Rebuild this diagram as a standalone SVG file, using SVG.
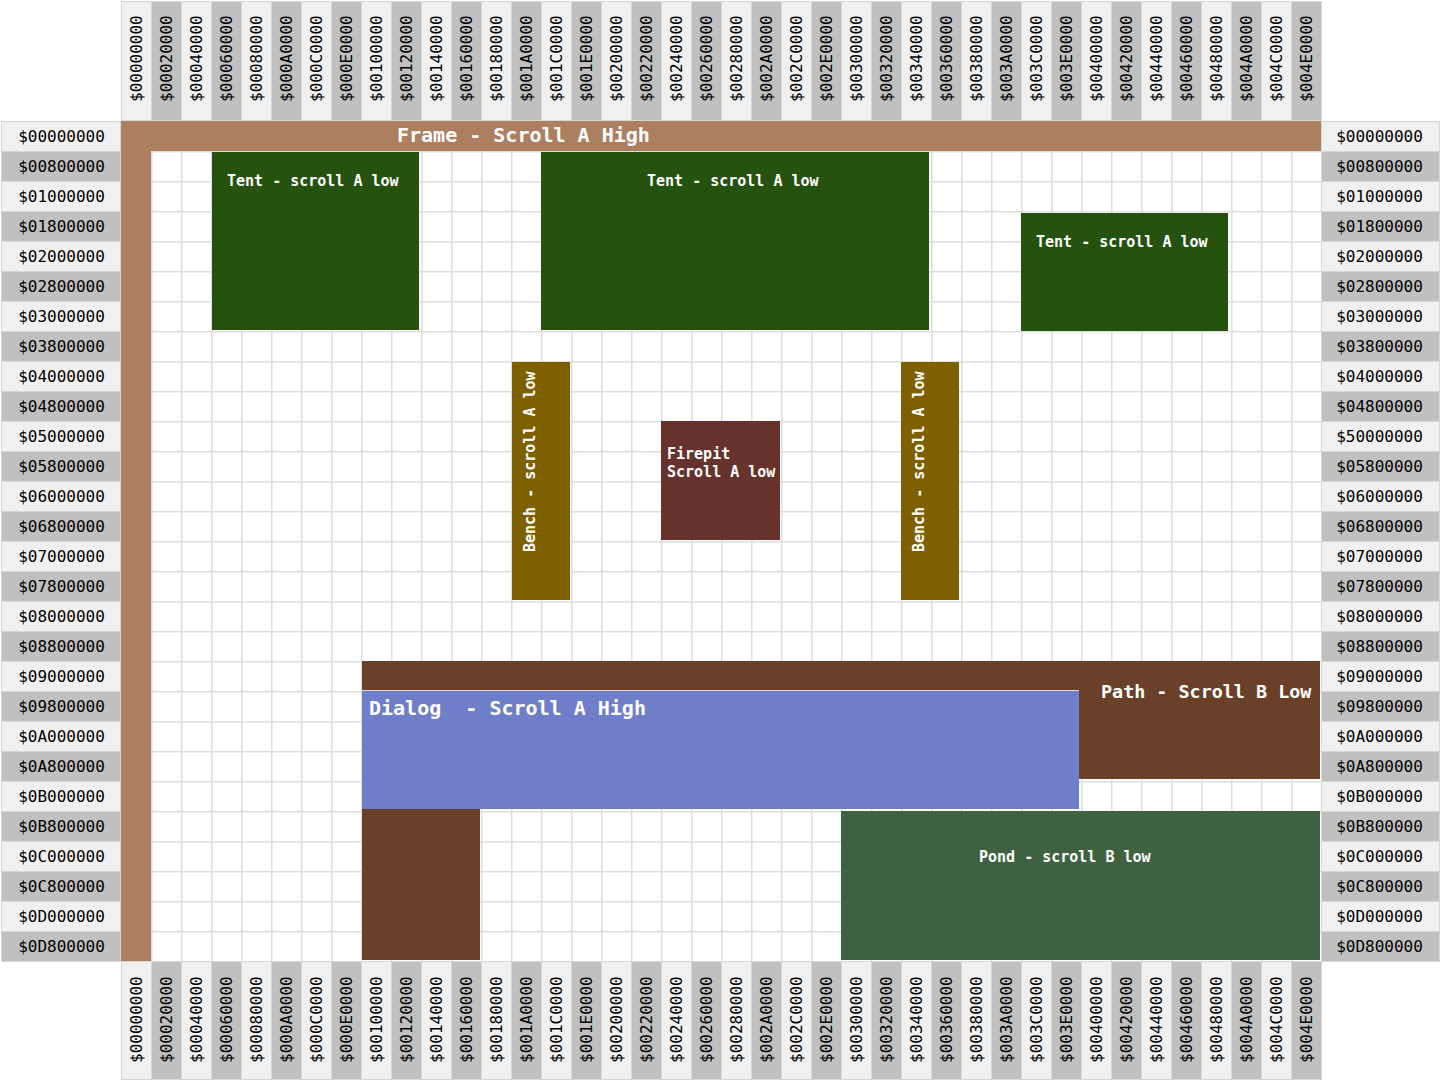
<svg xmlns="http://www.w3.org/2000/svg" width="1441" height="1081" viewBox="0 0 1441 1081">
  <defs>
    <style>
      .lbl { font-family: "DejaVu Sans Mono", "Liberation Mono", monospace; font-size: 16px; fill: #000; }
      .rowlbl { text-anchor: middle; }
      .lt { fill: #f0f0f0; stroke: #d8d8d8; stroke-width: 1; }
      .dk { fill: #c0c0c0; stroke: #d8d8d8; stroke-width: 1; }
      .nt { font-family: "DejaVu Sans Mono", "Liberation Mono", monospace; font-weight: bold; fill: #ffffff; white-space: pre; }
      .s15 { font-size: 15px; }
      .s20 { font-size: 20px; }
    </style>
    <!-- 30px cell grid for the main area -->
    <pattern id="cells" x="121" y="121" width="30" height="30" patternUnits="userSpaceOnUse">
      <rect width="30" height="30" fill="#ffffff"/>
      <path d="M0 0.75H30M0.75 0V30" stroke="#dedede" stroke-width="1.5" fill="none"/>
    </pattern>
  </defs>

  <rect width="1441" height="1081" fill="#ffffff"/>

  <!-- main grid -->
  <rect id="grid" x="121" y="121" width="1200" height="840" fill="url(#cells)"/>

  <!-- column headers, top -->
  <g id="col-header-top">
    <rect class="lt" x="121.5" y="1.5" width="30" height="119"/>
    <rect class="dk" x="151.5" y="1.5" width="30" height="119"/>
    <rect class="lt" x="181.5" y="1.5" width="30" height="119"/>
    <rect class="dk" x="211.5" y="1.5" width="30" height="119"/>
    <rect class="lt" x="241.5" y="1.5" width="30" height="119"/>
    <rect class="dk" x="271.5" y="1.5" width="30" height="119"/>
    <rect class="lt" x="301.5" y="1.5" width="30" height="119"/>
    <rect class="dk" x="331.5" y="1.5" width="30" height="119"/>
    <rect class="lt" x="361.5" y="1.5" width="30" height="119"/>
    <rect class="dk" x="391.5" y="1.5" width="30" height="119"/>
    <rect class="lt" x="421.5" y="1.5" width="30" height="119"/>
    <rect class="dk" x="451.5" y="1.5" width="30" height="119"/>
    <rect class="lt" x="481.5" y="1.5" width="30" height="119"/>
    <rect class="dk" x="511.5" y="1.5" width="30" height="119"/>
    <rect class="lt" x="541.5" y="1.5" width="30" height="119"/>
    <rect class="dk" x="571.5" y="1.5" width="30" height="119"/>
    <rect class="lt" x="601.5" y="1.5" width="30" height="119"/>
    <rect class="dk" x="631.5" y="1.5" width="30" height="119"/>
    <rect class="lt" x="661.5" y="1.5" width="30" height="119"/>
    <rect class="dk" x="691.5" y="1.5" width="30" height="119"/>
    <rect class="lt" x="721.5" y="1.5" width="30" height="119"/>
    <rect class="dk" x="751.5" y="1.5" width="30" height="119"/>
    <rect class="lt" x="781.5" y="1.5" width="30" height="119"/>
    <rect class="dk" x="811.5" y="1.5" width="30" height="119"/>
    <rect class="lt" x="841.5" y="1.5" width="30" height="119"/>
    <rect class="dk" x="871.5" y="1.5" width="30" height="119"/>
    <rect class="lt" x="901.5" y="1.5" width="30" height="119"/>
    <rect class="dk" x="931.5" y="1.5" width="30" height="119"/>
    <rect class="lt" x="961.5" y="1.5" width="30" height="119"/>
    <rect class="dk" x="991.5" y="1.5" width="30" height="119"/>
    <rect class="lt" x="1021.5" y="1.5" width="30" height="119"/>
    <rect class="dk" x="1051.5" y="1.5" width="30" height="119"/>
    <rect class="lt" x="1081.5" y="1.5" width="30" height="119"/>
    <rect class="dk" x="1111.5" y="1.5" width="30" height="119"/>
    <rect class="lt" x="1141.5" y="1.5" width="30" height="119"/>
    <rect class="dk" x="1171.5" y="1.5" width="30" height="119"/>
    <rect class="lt" x="1201.5" y="1.5" width="30" height="119"/>
    <rect class="dk" x="1231.5" y="1.5" width="30" height="119"/>
    <rect class="lt" x="1261.5" y="1.5" width="30" height="119"/>
    <rect class="dk" x="1291.5" y="1.5" width="30" height="119"/>
    <g class="lbl">
      <text transform="translate(141.5,102) rotate(-90)">$00000000</text>
      <text transform="translate(171.5,102) rotate(-90)">$00020000</text>
      <text transform="translate(201.5,102) rotate(-90)">$00040000</text>
      <text transform="translate(231.5,102) rotate(-90)">$00060000</text>
      <text transform="translate(261.5,102) rotate(-90)">$00080000</text>
      <text transform="translate(291.5,102) rotate(-90)">$000A0000</text>
      <text transform="translate(321.5,102) rotate(-90)">$000C0000</text>
      <text transform="translate(351.5,102) rotate(-90)">$000E0000</text>
      <text transform="translate(381.5,102) rotate(-90)">$00100000</text>
      <text transform="translate(411.5,102) rotate(-90)">$00120000</text>
      <text transform="translate(441.5,102) rotate(-90)">$00140000</text>
      <text transform="translate(471.5,102) rotate(-90)">$00160000</text>
      <text transform="translate(501.5,102) rotate(-90)">$00180000</text>
      <text transform="translate(531.5,102) rotate(-90)">$001A0000</text>
      <text transform="translate(561.5,102) rotate(-90)">$001C0000</text>
      <text transform="translate(591.5,102) rotate(-90)">$001E0000</text>
      <text transform="translate(621.5,102) rotate(-90)">$00200000</text>
      <text transform="translate(651.5,102) rotate(-90)">$00220000</text>
      <text transform="translate(681.5,102) rotate(-90)">$00240000</text>
      <text transform="translate(711.5,102) rotate(-90)">$00260000</text>
      <text transform="translate(741.5,102) rotate(-90)">$00280000</text>
      <text transform="translate(771.5,102) rotate(-90)">$002A0000</text>
      <text transform="translate(801.5,102) rotate(-90)">$002C0000</text>
      <text transform="translate(831.5,102) rotate(-90)">$002E0000</text>
      <text transform="translate(861.5,102) rotate(-90)">$00300000</text>
      <text transform="translate(891.5,102) rotate(-90)">$00320000</text>
      <text transform="translate(921.5,102) rotate(-90)">$00340000</text>
      <text transform="translate(951.5,102) rotate(-90)">$00360000</text>
      <text transform="translate(981.5,102) rotate(-90)">$00380000</text>
      <text transform="translate(1011.5,102) rotate(-90)">$003A0000</text>
      <text transform="translate(1041.5,102) rotate(-90)">$003C0000</text>
      <text transform="translate(1071.5,102) rotate(-90)">$003E0000</text>
      <text transform="translate(1101.5,102) rotate(-90)">$00400000</text>
      <text transform="translate(1131.5,102) rotate(-90)">$00420000</text>
      <text transform="translate(1161.5,102) rotate(-90)">$00440000</text>
      <text transform="translate(1191.5,102) rotate(-90)">$00460000</text>
      <text transform="translate(1221.5,102) rotate(-90)">$00480000</text>
      <text transform="translate(1251.5,102) rotate(-90)">$004A0000</text>
      <text transform="translate(1281.5,102) rotate(-90)">$004C0000</text>
      <text transform="translate(1311.5,102) rotate(-90)">$004E0000</text>
    </g>
  </g>

  <!-- column headers, bottom -->
  <g id="col-header-bottom">
    <rect class="lt" x="121.5" y="961.5" width="30" height="118"/>
    <rect class="dk" x="151.5" y="961.5" width="30" height="118"/>
    <rect class="lt" x="181.5" y="961.5" width="30" height="118"/>
    <rect class="dk" x="211.5" y="961.5" width="30" height="118"/>
    <rect class="lt" x="241.5" y="961.5" width="30" height="118"/>
    <rect class="dk" x="271.5" y="961.5" width="30" height="118"/>
    <rect class="lt" x="301.5" y="961.5" width="30" height="118"/>
    <rect class="dk" x="331.5" y="961.5" width="30" height="118"/>
    <rect class="lt" x="361.5" y="961.5" width="30" height="118"/>
    <rect class="dk" x="391.5" y="961.5" width="30" height="118"/>
    <rect class="lt" x="421.5" y="961.5" width="30" height="118"/>
    <rect class="dk" x="451.5" y="961.5" width="30" height="118"/>
    <rect class="lt" x="481.5" y="961.5" width="30" height="118"/>
    <rect class="dk" x="511.5" y="961.5" width="30" height="118"/>
    <rect class="lt" x="541.5" y="961.5" width="30" height="118"/>
    <rect class="dk" x="571.5" y="961.5" width="30" height="118"/>
    <rect class="lt" x="601.5" y="961.5" width="30" height="118"/>
    <rect class="dk" x="631.5" y="961.5" width="30" height="118"/>
    <rect class="lt" x="661.5" y="961.5" width="30" height="118"/>
    <rect class="dk" x="691.5" y="961.5" width="30" height="118"/>
    <rect class="lt" x="721.5" y="961.5" width="30" height="118"/>
    <rect class="dk" x="751.5" y="961.5" width="30" height="118"/>
    <rect class="lt" x="781.5" y="961.5" width="30" height="118"/>
    <rect class="dk" x="811.5" y="961.5" width="30" height="118"/>
    <rect class="lt" x="841.5" y="961.5" width="30" height="118"/>
    <rect class="dk" x="871.5" y="961.5" width="30" height="118"/>
    <rect class="lt" x="901.5" y="961.5" width="30" height="118"/>
    <rect class="dk" x="931.5" y="961.5" width="30" height="118"/>
    <rect class="lt" x="961.5" y="961.5" width="30" height="118"/>
    <rect class="dk" x="991.5" y="961.5" width="30" height="118"/>
    <rect class="lt" x="1021.5" y="961.5" width="30" height="118"/>
    <rect class="dk" x="1051.5" y="961.5" width="30" height="118"/>
    <rect class="lt" x="1081.5" y="961.5" width="30" height="118"/>
    <rect class="dk" x="1111.5" y="961.5" width="30" height="118"/>
    <rect class="lt" x="1141.5" y="961.5" width="30" height="118"/>
    <rect class="dk" x="1171.5" y="961.5" width="30" height="118"/>
    <rect class="lt" x="1201.5" y="961.5" width="30" height="118"/>
    <rect class="dk" x="1231.5" y="961.5" width="30" height="118"/>
    <rect class="lt" x="1261.5" y="961.5" width="30" height="118"/>
    <rect class="dk" x="1291.5" y="961.5" width="30" height="118"/>
    <g class="lbl">
      <text transform="translate(141.5,1063) rotate(-90)">$00000000</text>
      <text transform="translate(171.5,1063) rotate(-90)">$00020000</text>
      <text transform="translate(201.5,1063) rotate(-90)">$00040000</text>
      <text transform="translate(231.5,1063) rotate(-90)">$00060000</text>
      <text transform="translate(261.5,1063) rotate(-90)">$00080000</text>
      <text transform="translate(291.5,1063) rotate(-90)">$000A0000</text>
      <text transform="translate(321.5,1063) rotate(-90)">$000C0000</text>
      <text transform="translate(351.5,1063) rotate(-90)">$000E0000</text>
      <text transform="translate(381.5,1063) rotate(-90)">$00100000</text>
      <text transform="translate(411.5,1063) rotate(-90)">$00120000</text>
      <text transform="translate(441.5,1063) rotate(-90)">$00140000</text>
      <text transform="translate(471.5,1063) rotate(-90)">$00160000</text>
      <text transform="translate(501.5,1063) rotate(-90)">$00180000</text>
      <text transform="translate(531.5,1063) rotate(-90)">$001A0000</text>
      <text transform="translate(561.5,1063) rotate(-90)">$001C0000</text>
      <text transform="translate(591.5,1063) rotate(-90)">$001E0000</text>
      <text transform="translate(621.5,1063) rotate(-90)">$00200000</text>
      <text transform="translate(651.5,1063) rotate(-90)">$00220000</text>
      <text transform="translate(681.5,1063) rotate(-90)">$00240000</text>
      <text transform="translate(711.5,1063) rotate(-90)">$00260000</text>
      <text transform="translate(741.5,1063) rotate(-90)">$00280000</text>
      <text transform="translate(771.5,1063) rotate(-90)">$002A0000</text>
      <text transform="translate(801.5,1063) rotate(-90)">$002C0000</text>
      <text transform="translate(831.5,1063) rotate(-90)">$002E0000</text>
      <text transform="translate(861.5,1063) rotate(-90)">$00300000</text>
      <text transform="translate(891.5,1063) rotate(-90)">$00320000</text>
      <text transform="translate(921.5,1063) rotate(-90)">$00340000</text>
      <text transform="translate(951.5,1063) rotate(-90)">$00360000</text>
      <text transform="translate(981.5,1063) rotate(-90)">$00380000</text>
      <text transform="translate(1011.5,1063) rotate(-90)">$003A0000</text>
      <text transform="translate(1041.5,1063) rotate(-90)">$003C0000</text>
      <text transform="translate(1071.5,1063) rotate(-90)">$003E0000</text>
      <text transform="translate(1101.5,1063) rotate(-90)">$00400000</text>
      <text transform="translate(1131.5,1063) rotate(-90)">$00420000</text>
      <text transform="translate(1161.5,1063) rotate(-90)">$00440000</text>
      <text transform="translate(1191.5,1063) rotate(-90)">$00460000</text>
      <text transform="translate(1221.5,1063) rotate(-90)">$00480000</text>
      <text transform="translate(1251.5,1063) rotate(-90)">$004A0000</text>
      <text transform="translate(1281.5,1063) rotate(-90)">$004C0000</text>
      <text transform="translate(1311.5,1063) rotate(-90)">$004E0000</text>
    </g>
  </g>

  <!-- row headers, left -->
  <g id="row-header-left">
    <rect class="lt" x="1.5" y="121.5" width="119" height="30"/>
    <rect class="dk" x="1.5" y="151.5" width="119" height="30"/>
    <rect class="lt" x="1.5" y="181.5" width="119" height="30"/>
    <rect class="dk" x="1.5" y="211.5" width="119" height="30"/>
    <rect class="lt" x="1.5" y="241.5" width="119" height="30"/>
    <rect class="dk" x="1.5" y="271.5" width="119" height="30"/>
    <rect class="lt" x="1.5" y="301.5" width="119" height="30"/>
    <rect class="dk" x="1.5" y="331.5" width="119" height="30"/>
    <rect class="lt" x="1.5" y="361.5" width="119" height="30"/>
    <rect class="dk" x="1.5" y="391.5" width="119" height="30"/>
    <rect class="lt" x="1.5" y="421.5" width="119" height="30"/>
    <rect class="dk" x="1.5" y="451.5" width="119" height="30"/>
    <rect class="lt" x="1.5" y="481.5" width="119" height="30"/>
    <rect class="dk" x="1.5" y="511.5" width="119" height="30"/>
    <rect class="lt" x="1.5" y="541.5" width="119" height="30"/>
    <rect class="dk" x="1.5" y="571.5" width="119" height="30"/>
    <rect class="lt" x="1.5" y="601.5" width="119" height="30"/>
    <rect class="dk" x="1.5" y="631.5" width="119" height="30"/>
    <rect class="lt" x="1.5" y="661.5" width="119" height="30"/>
    <rect class="dk" x="1.5" y="691.5" width="119" height="30"/>
    <rect class="lt" x="1.5" y="721.5" width="119" height="30"/>
    <rect class="dk" x="1.5" y="751.5" width="119" height="30"/>
    <rect class="lt" x="1.5" y="781.5" width="119" height="30"/>
    <rect class="dk" x="1.5" y="811.5" width="119" height="30"/>
    <rect class="lt" x="1.5" y="841.5" width="119" height="30"/>
    <rect class="dk" x="1.5" y="871.5" width="119" height="30"/>
    <rect class="lt" x="1.5" y="901.5" width="119" height="30"/>
    <rect class="dk" x="1.5" y="931.5" width="119" height="30"/>
    <g class="lbl rowlbl">
      <text x="61.5" y="142">$00000000</text>
      <text x="61.5" y="172">$00800000</text>
      <text x="61.5" y="202">$01000000</text>
      <text x="61.5" y="232">$01800000</text>
      <text x="61.5" y="262">$02000000</text>
      <text x="61.5" y="292">$02800000</text>
      <text x="61.5" y="322">$03000000</text>
      <text x="61.5" y="352">$03800000</text>
      <text x="61.5" y="382">$04000000</text>
      <text x="61.5" y="412">$04800000</text>
      <text x="61.5" y="442">$05000000</text>
      <text x="61.5" y="472">$05800000</text>
      <text x="61.5" y="502">$06000000</text>
      <text x="61.5" y="532">$06800000</text>
      <text x="61.5" y="562">$07000000</text>
      <text x="61.5" y="592">$07800000</text>
      <text x="61.5" y="622">$08000000</text>
      <text x="61.5" y="652">$08800000</text>
      <text x="61.5" y="682">$09000000</text>
      <text x="61.5" y="712">$09800000</text>
      <text x="61.5" y="742">$0A000000</text>
      <text x="61.5" y="772">$0A800000</text>
      <text x="61.5" y="802">$0B000000</text>
      <text x="61.5" y="832">$0B800000</text>
      <text x="61.5" y="862">$0C000000</text>
      <text x="61.5" y="892">$0C800000</text>
      <text x="61.5" y="922">$0D000000</text>
      <text x="61.5" y="952">$0D800000</text>
    </g>
  </g>

  <!-- row headers, right -->
  <g id="row-header-right">
    <rect class="lt" x="1321.5" y="121.5" width="118" height="30"/>
    <rect class="dk" x="1321.5" y="151.5" width="118" height="30"/>
    <rect class="lt" x="1321.5" y="181.5" width="118" height="30"/>
    <rect class="dk" x="1321.5" y="211.5" width="118" height="30"/>
    <rect class="lt" x="1321.5" y="241.5" width="118" height="30"/>
    <rect class="dk" x="1321.5" y="271.5" width="118" height="30"/>
    <rect class="lt" x="1321.5" y="301.5" width="118" height="30"/>
    <rect class="dk" x="1321.5" y="331.5" width="118" height="30"/>
    <rect class="lt" x="1321.5" y="361.5" width="118" height="30"/>
    <rect class="dk" x="1321.5" y="391.5" width="118" height="30"/>
    <rect class="lt" x="1321.5" y="421.5" width="118" height="30"/>
    <rect class="dk" x="1321.5" y="451.5" width="118" height="30"/>
    <rect class="lt" x="1321.5" y="481.5" width="118" height="30"/>
    <rect class="dk" x="1321.5" y="511.5" width="118" height="30"/>
    <rect class="lt" x="1321.5" y="541.5" width="118" height="30"/>
    <rect class="dk" x="1321.5" y="571.5" width="118" height="30"/>
    <rect class="lt" x="1321.5" y="601.5" width="118" height="30"/>
    <rect class="dk" x="1321.5" y="631.5" width="118" height="30"/>
    <rect class="lt" x="1321.5" y="661.5" width="118" height="30"/>
    <rect class="dk" x="1321.5" y="691.5" width="118" height="30"/>
    <rect class="lt" x="1321.5" y="721.5" width="118" height="30"/>
    <rect class="dk" x="1321.5" y="751.5" width="118" height="30"/>
    <rect class="lt" x="1321.5" y="781.5" width="118" height="30"/>
    <rect class="dk" x="1321.5" y="811.5" width="118" height="30"/>
    <rect class="lt" x="1321.5" y="841.5" width="118" height="30"/>
    <rect class="dk" x="1321.5" y="871.5" width="118" height="30"/>
    <rect class="lt" x="1321.5" y="901.5" width="118" height="30"/>
    <rect class="dk" x="1321.5" y="931.5" width="118" height="30"/>
    <g class="lbl rowlbl">
      <text x="1379.5" y="142">$00000000</text>
      <text x="1379.5" y="172">$00800000</text>
      <text x="1379.5" y="202">$01000000</text>
      <text x="1379.5" y="232">$01800000</text>
      <text x="1379.5" y="262">$02000000</text>
      <text x="1379.5" y="292">$02800000</text>
      <text x="1379.5" y="322">$03000000</text>
      <text x="1379.5" y="352">$03800000</text>
      <text x="1379.5" y="382">$04000000</text>
      <text x="1379.5" y="412">$04800000</text>
      <text x="1379.5" y="442">$50000000</text>
      <text x="1379.5" y="472">$05800000</text>
      <text x="1379.5" y="502">$06000000</text>
      <text x="1379.5" y="532">$06800000</text>
      <text x="1379.5" y="562">$07000000</text>
      <text x="1379.5" y="592">$07800000</text>
      <text x="1379.5" y="622">$08000000</text>
      <text x="1379.5" y="652">$08800000</text>
      <text x="1379.5" y="682">$09000000</text>
      <text x="1379.5" y="712">$09800000</text>
      <text x="1379.5" y="742">$0A000000</text>
      <text x="1379.5" y="772">$0A800000</text>
      <text x="1379.5" y="802">$0B000000</text>
      <text x="1379.5" y="832">$0B800000</text>
      <text x="1379.5" y="862">$0C000000</text>
      <text x="1379.5" y="892">$0C800000</text>
      <text x="1379.5" y="922">$0D000000</text>
      <text x="1379.5" y="952">$0D800000</text>
    </g>
  </g>

  <!-- frame: top bar and left bar -->
  <g id="frame">
    <path d="M121 121H1321V151H151V961H121Z" fill="#ad7f61"/>
    <text class="nt s20" x="397" y="142">Frame - Scroll A High</text>
  </g>

  <g id="tent-1">
    <rect x="212" y="152" width="207" height="178" fill="#25520e"/>
    <text class="nt s15" x="227" y="186">Tent - scroll A low</text>
  </g>

  <g id="tent-2">
    <rect x="541" y="152" width="388" height="178" fill="#25520e"/>
    <text class="nt s15" x="647" y="186">Tent - scroll A low</text>
  </g>

  <g id="tent-3">
    <rect x="1021" y="213" width="207" height="118" fill="#25520e"/>
    <text class="nt s15" x="1036" y="247">Tent - scroll A low</text>
  </g>

  <g id="bench-1">
    <rect x="512" y="362" width="58" height="238" fill="#7f6000"/>
    <text class="nt s15" transform="translate(535,552) rotate(-90)">Bench - scroll A low</text>
  </g>

  <g id="bench-2">
    <rect x="901" y="362" width="58" height="238" fill="#7f6000"/>
    <text class="nt s15" transform="translate(924,552) rotate(-90)">Bench - scroll A low</text>
  </g>

  <g id="firepit">
    <rect x="661" y="421" width="119" height="119" fill="#66322b"/>
    <text class="nt s15" x="667" y="459">Firepit</text>
    <text class="nt s15" x="667" y="477">Scroll A low</text>
  </g>

  <g id="path">
    <path d="M362 661H1320V779H480V960H362Z" fill="#6a4028"/>
    <text class="nt" style="font-size:18.4px" x="1101" y="698">Path - Scroll B Low</text>
  </g>

  <g id="dialog">
    <rect x="362" y="691" width="717" height="118" fill="#6f7ec9"/>
    <line x1="362" y1="690.5" x2="1079" y2="690.5" stroke="#d8d8d8" stroke-width="1"/>
    <text class="nt s20" x="369" y="715">Dialog  - Scroll A High</text>
  </g>

  <g id="pond">
    <rect x="841" y="811" width="479" height="149" fill="#3f6340"/>
    <text class="nt s15" x="979" y="862">Pond - scroll B low</text>
  </g>
</svg>
